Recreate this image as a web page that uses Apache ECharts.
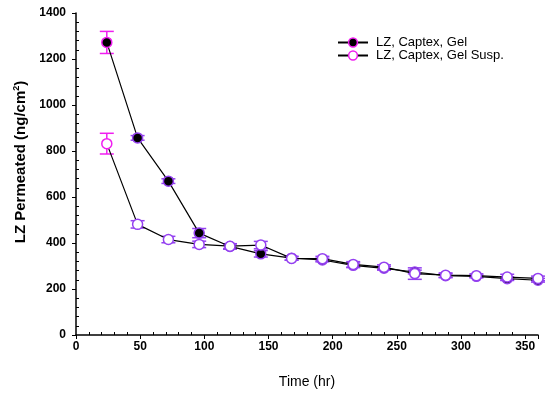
<!DOCTYPE html>
<html>
<head>
<meta charset="utf-8">
<script src="https://cdn.jsdelivr.net/npm/echarts@6/dist/echarts.min.js"></script>
<style>
html,body{margin:0;padding:0;background:#fff;}
#chart{width:550px;height:394px;}
</style>
</head>
<body>
<div id="chart"></div>
<script>
// Data
const times = [24, 48, 72, 96, 120, 144, 168, 192, 216, 240, 264, 288, 312, 336, 360];
const gelValues = [1272, 857, 669, 443, 385, 353, 334, 326, 303, 290, 274, 258, 255, 245, 238];
const gelErrors = [48, 10, 10, 20, 12, 14, 8, 8, 10, 8, 8, 8, 6, 8, 8];
const suspValues = [832, 481, 415, 394, 386, 391, 333, 332, 307, 295, 267, 260, 258, 252, 246];
const suspErrors = [45, 16, 14, 14, 10, 16, 8, 10, 12, 10, 25, 10, 8, 12, 10];
const seriesNames = ['LZ, Captex, Gel', 'LZ, Captex, Gel Susp.'];
const xTicks = [0, 50, 100, 150, 200, 250, 300, 350];
const yTicks = [0, 200, 400, 600, 800, 1000, 1200, 1400];

const MAG = '#f01ef0';
const PUR = '#9440f0';

function pts(vals) { return times.map((t, i) => [t, vals[i]]); }
function errData(vals, errs) { return times.map((t, i) => [t, vals[i] - errs[i], vals[i] + errs[i], i]); }

function errRender(params, api) {
  const x = api.value(0);
  const lo = api.coord([x, api.value(1)]);
  const hi = api.coord([x, api.value(2)]);
  const col = api.value(3) === 0 ? MAG : PUR;
  const hw = 7;
  const st = { stroke: col, lineWidth: 1.5 };
  return {
    type: 'group',
    children: [
      { type: 'line', shape: { x1: lo[0], y1: lo[1], x2: hi[0], y2: hi[1] }, style: st },
      { type: 'line', shape: { x1: lo[0] - hw, y1: lo[1], x2: lo[0] + hw, y2: lo[1] }, style: st },
      { type: 'line', shape: { x1: hi[0] - hw, y1: hi[1], x2: hi[0] + hw, y2: hi[1] }, style: st }
    ]
  };
}

function styledPoints(vals, fill) {
  return pts(vals).map((p, i) => ({
    value: p,
    itemStyle: { color: fill, borderColor: i === 0 ? MAG : PUR, borderWidth: 1.5 }
  }));
}

const chart = echarts.init(document.getElementById('chart'));
chart.setOption({
  animation: false,
  backgroundColor: '#fff',
  grid: { left: 76, right: 12, top: 13, bottom: 58 },
  legend: {
    orient: 'vertical',
    left: 332,
    top: 31,
    itemWidth: 30,
    itemHeight: 11,
    itemGap: 0,
    textStyle: { fontFamily: 'Liberation Sans, Arial, sans-serif', fontSize: 13, color: '#000', padding: [0, 0, 0, 3] },
    data: [
      { name: seriesNames[0], itemStyle: { color: '#000', borderColor: MAG, borderWidth: 1.5 } },
      { name: seriesNames[1], itemStyle: { color: '#fff', borderColor: MAG, borderWidth: 1.5 } }
    ]
  },
  xAxis: {
    type: 'value',
    min: 0, max: 360, interval: 50,
    name: 'Time (hr)',
    nameLocation: 'middle',
    nameGap: 40,
    nameTextStyle: { fontFamily: 'Liberation Sans, Arial, sans-serif', fontSize: 14, color: '#000' },
    axisLine: { lineStyle: { color: '#000', width: 1.5 } },
    axisTick: { length: 4, lineStyle: { color: '#000', width: 1 } },
    minorTick: { show: true, splitNumber: 5, length: -3, lineStyle: { color: '#000', width: 1 } },
    axisLabel: {
      margin: 6, fontFamily: 'Liberation Sans, Arial, sans-serif', fontSize: 12, fontWeight: 'bold', color: '#000',
      showMaxLabel: false,
      formatter: v => xTicks.includes(v) ? String(v) : ''
    },
    splitLine: { show: false }
  },
  yAxis: {
    type: 'value',
    min: 0, max: 1400, interval: 200,
    name: 'LZ Permeated (ng/cm{s|2})',
    nameLocation: 'middle',
    nameGap: 44,
    nameTextStyle: {
      fontFamily: 'Liberation Sans, Arial, sans-serif', fontSize: 15, fontWeight: 'bold', color: '#000',
      padding: [0, 0, 0, 24],
      rich: { s: { fontSize: 9, fontWeight: 'bold', verticalAlign: 'top', padding: [0, 0, 8, 0], fontFamily: 'Liberation Sans, Arial, sans-serif' } }
    },
    axisLine: { show: true, lineStyle: { color: '#000', width: 1.5 } },
    axisTick: { show: true, length: 4, lineStyle: { color: '#000', width: 1 } },
    minorTick: { show: true, splitNumber: 5, length: -3, lineStyle: { color: '#000', width: 1 } },
    axisLabel: {
      margin: 10, fontFamily: 'Liberation Sans, Arial, sans-serif', fontSize: 12, fontWeight: 'bold', color: '#000',
      formatter: v => yTicks.includes(v) ? String(v) : ''
    },
    splitLine: { show: false }
  },
  series: [
    {
      type: 'custom', name: 'errGel', renderItem: errRender, data: errData(gelValues, gelErrors),
      encode: { x: 0, y: [1, 2] }, z: 1, silent: true
    },
    {
      type: 'custom', name: 'errSusp', renderItem: errRender, data: errData(suspValues, suspErrors),
      encode: { x: 0, y: [1, 2] }, z: 1, silent: true
    },
    {
      type: 'line', name: seriesNames[0], data: styledPoints(gelValues, '#000'),
      symbol: 'circle', symbolSize: 10, z: 3,
      lineStyle: { color: '#000', width: 1.2 },
      itemStyle: { color: '#000', borderColor: MAG, borderWidth: 1.5 }
    },
    {
      type: 'line', name: seriesNames[1], data: styledPoints(suspValues, '#fff'),
      symbol: 'circle', symbolSize: 10, z: 4,
      lineStyle: { color: '#000', width: 1.2 },
      itemStyle: { color: '#fff', borderColor: MAG, borderWidth: 1.5 }
    }
  ]
});
</script>
</body>
</html>
